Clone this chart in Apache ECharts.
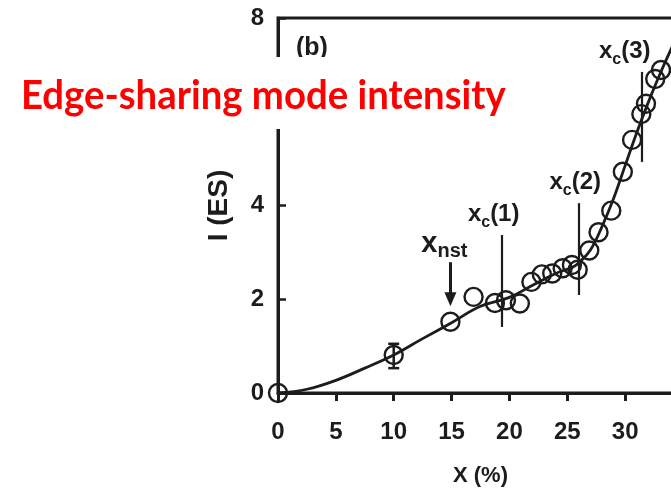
<!DOCTYPE html>
<html><head><meta charset="utf-8">
<script src="https://cdn.jsdelivr.net/npm/echarts@6/dist/echarts.min.js"></script>
<style>html,body{margin:0;padding:0;background:#fff}#c{width:671px;height:491px}</style>
</head><body><div id="c"></div>
<script>
// ---- data ----
const xTicks = [0, 5, 10, 15, 20, 25, 30];
const yTicks = [0, 2, 4, 6, 8];
const measX = [0, 10, 14.9, 16.9, 18.75, 19.7, 20.9, 21.9, 22.8, 23.7, 24.6, 25.4, 25.9, 26.9, 27.7, 28.8, 29.8, 30.6, 31.4, 31.8, 32.6, 33.1];
const measY = [0, 0.81, 1.52, 2.05, 1.92, 1.98, 1.91, 2.37, 2.53, 2.55, 2.66, 2.73, 2.63, 3.04, 3.43, 3.89, 4.72, 5.40, 5.95, 6.17, 6.70, 6.89];
const fitX = [0, 2.5, 5, 7.5, 10, 12.5, 15, 17.5, 20, 22, 24, 25.5, 26, 27, 28, 29, 30, 31, 32, 33, 34, 35];
const fitY = [0, 0.08, 0.27, 0.53, 0.81, 1.16, 1.5, 1.85, 2.04, 2.3, 2.55, 2.69, 2.78, 3.05, 3.55, 4.15, 4.85, 5.55, 6.2, 6.8, 7.35, 7.85];
const errX = [10];
const errLow = [0.53];
const errHigh = [1.05];
const xcNames = ['1', '2', '3'];
const xcX = [19.33, 25.95, 31.43];
const xcBottom = [1.41, 2.09, 4.93];
const xcTop = [3.37, 4.05, 6.85];
const nstX = 14.9;
const nstTop = 2.79;
const nstTip = 2.0;
const titleText = 'Edge-sharing mode intensity';
const panelText = '(b)';

// ---- styles ----
const INK = '#1c1c1c';
const FONT = '"Liberation Sans", Arial, sans-serif';
const xcLabelDx = [-8, -3, -17];

const chart = echarts.init(document.getElementById('c'), null, {renderer: 'canvas'});

const curve = fitX.map((x, i) => [x, fitY[i]]);
const meas = measX.map((x, i) => [x, measY[i]]);
const errs = errX.map((x, i) => [x, errLow[i], errHigh[i]]);
const xcLines = xcX.map((x, i) => [{coord: [x, xcBottom[i]]}, {coord: [x, xcTop[i]]}]);
const xcLabels = xcX.map((x, i) => ({
  value: [x, xcTop[i]], name: xcNames[i],
  label: {offset: [xcLabelDx[i], 0]}
}));

chart.setOption({
  animation: false,
  backgroundColor: '#fff',
  grid: {left: 278, top: 18, width: 405, height: 375, outerBoundsMode: 'none', containLabel: false,
    show: true, borderColor: INK, borderWidth: 3, backgroundColor: 'transparent'},
  xAxis: {
    type: 'value', min: 0, max: 35, interval: 5,
    name: 'X (%)', nameLocation: 'middle', nameGap: 72,
    nameTextStyle: {fontFamily: FONT, fontWeight: 'bold', fontSize: 22, color: INK},
    axisLine: {lineStyle: {color: INK, width: 3}},
    axisTick: {inside: false, length: 8, lineStyle: {color: INK, width: 3}},
    axisLabel: {margin: 27, fontFamily: FONT, fontWeight: 'bold', fontSize: 24, color: INK,
      formatter: v => xTicks.includes(v) ? String(v) : ''},
    splitLine: {show: false}
  },
  yAxis: {
    type: 'value', min: 0, max: 8, interval: 2,
    name: 'I (ES)', nameLocation: 'middle', nameGap: 45,
    nameTextStyle: {fontFamily: FONT, fontWeight: 'bold', fontSize: 28, color: INK},
    axisLine: {lineStyle: {color: INK, width: 3}},
    axisTick: {inside: true, length: 8, lineStyle: {color: INK, width: 2.5}},
    axisLabel: {margin: 14, fontFamily: FONT, fontWeight: 'bold', fontSize: 24, color: INK,
      formatter: v => yTicks.includes(v) ? String(v) : ''},
    splitLine: {show: false}
  },
  series: [
    {
      type: 'line', data: curve, symbol: 'none', smooth: 0.4,
      lineStyle: {color: INK, width: 2.8}, z: 2, silent: true,
      markLine: {
        silent: true, symbol: ['none', 'none'], animation: false,
        label: {show: false},
        lineStyle: {color: INK, width: 2.2, type: 'solid'},
        data: xcLines
      }
    },
    {
      type: 'scatter', data: meas, symbol: 'circle', symbolSize: 18, z: 3, silent: true,
      itemStyle: {color: 'transparent', borderColor: INK, borderWidth: 2.4, opacity: 1},
      markLine: {
        silent: true, symbol: ['none', 'triangle'], symbolSize: [12, 14], animation: false,
        label: {show: false},
        lineStyle: {color: INK, width: 3, type: 'solid'},
        itemStyle: {color: INK},
        data: [[{coord: [nstX, nstTop]}, {coord: [nstX, nstTip]}]]
      }
    },
    {
      type: 'custom', data: errs, z: 3, silent: true,
      renderItem(params, api) {
        const x = api.value(0);
        const lo = api.coord([x, api.value(1)]);
        const hi = api.coord([x, api.value(2)]);
        const w = 5.5;
        const st = {stroke: INK, lineWidth: 2.5};
        return {type: 'group', children: [
          {type: 'line', shape: {x1: lo[0], y1: lo[1], x2: hi[0], y2: hi[1]}, style: st},
          {type: 'line', shape: {x1: lo[0] - w, y1: lo[1], x2: lo[0] + w, y2: lo[1]}, style: st},
          {type: 'line', shape: {x1: hi[0] - w, y1: hi[1], x2: hi[0] + w, y2: hi[1]}, style: st}
        ]};
      }
    },
    {
      type: 'scatter', data: xcLabels, symbol: 'circle', symbolSize: 1, z: 4, silent: true,
      itemStyle: {color: 'transparent', opacity: 1},
      label: {
        show: true, position: 'top', distance: 4,
        formatter: p => '{x|x}{c|c}{p|(' + p.name + ')}',
        rich: {
          x: {fontFamily: FONT, fontWeight: 'bold', fontSize: 24, lineHeight: 28, verticalAlign: 'top', color: INK},
          c: {fontFamily: FONT, fontWeight: 'bold', fontSize: 16, lineHeight: 14, verticalAlign: 'bottom', color: INK},
          p: {fontFamily: FONT, fontWeight: 'bold', fontSize: 24, lineHeight: 28, verticalAlign: 'top', color: INK}
        }
      }
    },
    {
      type: 'scatter', data: [{value: [nstX, nstTop], name: 'nst'}], symbol: 'circle', symbolSize: 1, z: 4, silent: true,
      itemStyle: {color: 'transparent', opacity: 1},
      label: {
        show: true, position: 'top', distance: 0, offset: [-6, 0],
        formatter: p => '{X|x}{s|' + p.name + '}',
        rich: {
          X: {fontFamily: FONT, fontWeight: 'bold', fontSize: 29, lineHeight: 32, verticalAlign: 'top', color: INK},
          s: {fontFamily: FONT, fontWeight: 'bold', fontSize: 20, lineHeight: 20, verticalAlign: 'bottom', color: INK}
        }
      }
    }
  ],
  graphic: [
    {type: 'text', z: 50, x: 296, y: 36, silent: true,
      style: {text: panelText, font: 'bold 25px ' + FONT, fill: INK, verticalAlign: 'top'}},
    {type: 'rect', z: 100, silent: true, shape: {x: 0, y: 57, width: 545, height: 72}, style: {fill: '#fff'}},
    {type: 'text', z: 101, x: 21, y: 76, scaleX: 0.958, silent: true,
      style: {text: titleText, font: 'bold 40px Lato, "Open Sans", sans-serif', fill: '#ff0000', verticalAlign: 'top'}}
  ]
});
</script>
</body></html>
